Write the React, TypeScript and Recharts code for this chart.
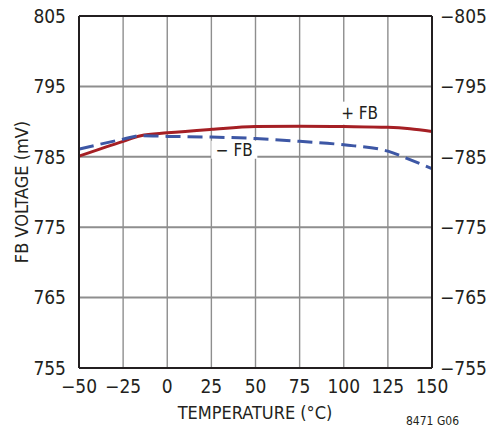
import React from 'react';
import { LineChart, Line, XAxis, YAxis, CartesianGrid, ReferenceLine, ReferenceDot } from 'recharts';

const temps = [-50, -25, -15, 0, 25, 50, 75, 100, 125, 137.5, 150];
const plusFb = [785.1, 787.2, 788.0, 788.4, 788.9, 789.3, 789.35, 789.3, 789.2, 789.0, 788.6];
const minusFb = [786.1, 787.5, 788.0, 787.9, 787.8, 787.6, 787.2, 786.7, 785.8, 784.6, 783.3];
const xTicks = [-50, -25, 0, 25, 50, 75, 100, 125, 150];
const yTicks = [755, 765, 775, 785, 795, 805];

const data = temps.map((t, i) => ({ t, plus: plusFb[i], minus: minusFb[i] }));

const FONT = '"Liberation Sans Narrow", "DejaVu Sans Condensed", "Roboto", sans-serif';
const INK = '#231f20';
const GRID = '#8e8e8e';

function tagShape(text: string, w: number, h: number) {
  return (props: any) => {
    const { cx, cy } = props;
    return (
      <g>
        <rect x={cx - w / 2} y={cy - h / 2} width={w} height={h} fill="#fff" />
        <text x={cx} y={cy} textAnchor="middle" dominantBaseline="central" fontFamily={FONT} fontSize={17} fill={INK}>
          {text}
        </text>
      </g>
    );
  };
}

export default function App() {
  return (
    <div style={{ position: 'absolute', left: 0, top: 0, width: 494, height: 430, background: '#fff', fontFamily: FONT }}>
      <LineChart width={494} height={430} data={data} margin={{ top: 16, right: 0, bottom: 0, left: 0 }}>
        <CartesianGrid vertical={false} stroke={GRID} strokeWidth={2} />
        <CartesianGrid horizontal={false} stroke={GRID} strokeWidth={1.4} />
        <XAxis
          dataKey="t"
          type="number"
          domain={[-50, 150]}
          ticks={xTicks}
          height={62}
          tickLine={false}
          tickMargin={6}
          axisLine={{ stroke: INK, strokeWidth: 2 }}
          tick={{ fill: INK, fontSize: 19, fontFamily: FONT }}
          tickFormatter={(v: number) => (v < 0 ? `\u2212${Math.abs(v)}` : `${v}`)}
        />
        <YAxis
          domain={[755, 805]}
          ticks={yTicks}
          width={79}
          tickLine={false}
          tickMargin={7}
          axisLine={{ stroke: INK, strokeWidth: 2 }}
          tick={{ fill: INK, fontSize: 19, fontFamily: FONT }}
        />
        <YAxis
          yAxisId="r"
          orientation="right"
          domain={[755, 805]}
          ticks={yTicks}
          width={62}
          tickLine={false}
          tickMargin={2}
          axisLine={{ stroke: INK, strokeWidth: 2 }}
          tick={{ fill: INK, fontSize: 19, fontFamily: FONT }}
          tickFormatter={(v: number) => `\u2212${v}`}
        />
        <ReferenceLine y={805} stroke={INK} strokeWidth={2} />
        <Line
          type="monotone"
          dataKey="plus"
          stroke="#a51f24"
          strokeWidth={3}
          dot={false}
          isAnimationActive={false}
        />
        <Line
          yAxisId="r"
          type="monotone"
          dataKey="minus"
          stroke="#3d57a5"
          strokeWidth={3}
          strokeDasharray="15 7"
          dot={false}
          isAnimationActive={false}
        />
        <ReferenceDot x={109} y={791.2} r={0} shape={tagShape('+ FB', 40, 23)} />
        <ReferenceDot x={38} y={786.0} r={0} shape={tagShape('\u2212 FB', 46, 18)} />
      </LineChart>
      <div
        style={{
          position: 'absolute',
          left: 21,
          top: 192,
          transform: 'translate(-50%, -50%) rotate(-90deg)',
          whiteSpace: 'nowrap',
          fontSize: 18,
          color: INK,
        }}
      >
        FB VOLTAGE (mV)
      </div>
      <div
        style={{
          position: 'absolute',
          left: 255,
          top: 412,
          transform: 'translate(-50%, -50%)',
          whiteSpace: 'nowrap',
          fontSize: 18,
          color: INK,
        }}
      >
        TEMPERATURE (°C)
      </div>
      <div style={{ position: 'absolute', left: 406, top: 414, fontSize: 12, color: INK, whiteSpace: 'nowrap' }}>
        8471 G06
      </div>
    </div>
  );
}
